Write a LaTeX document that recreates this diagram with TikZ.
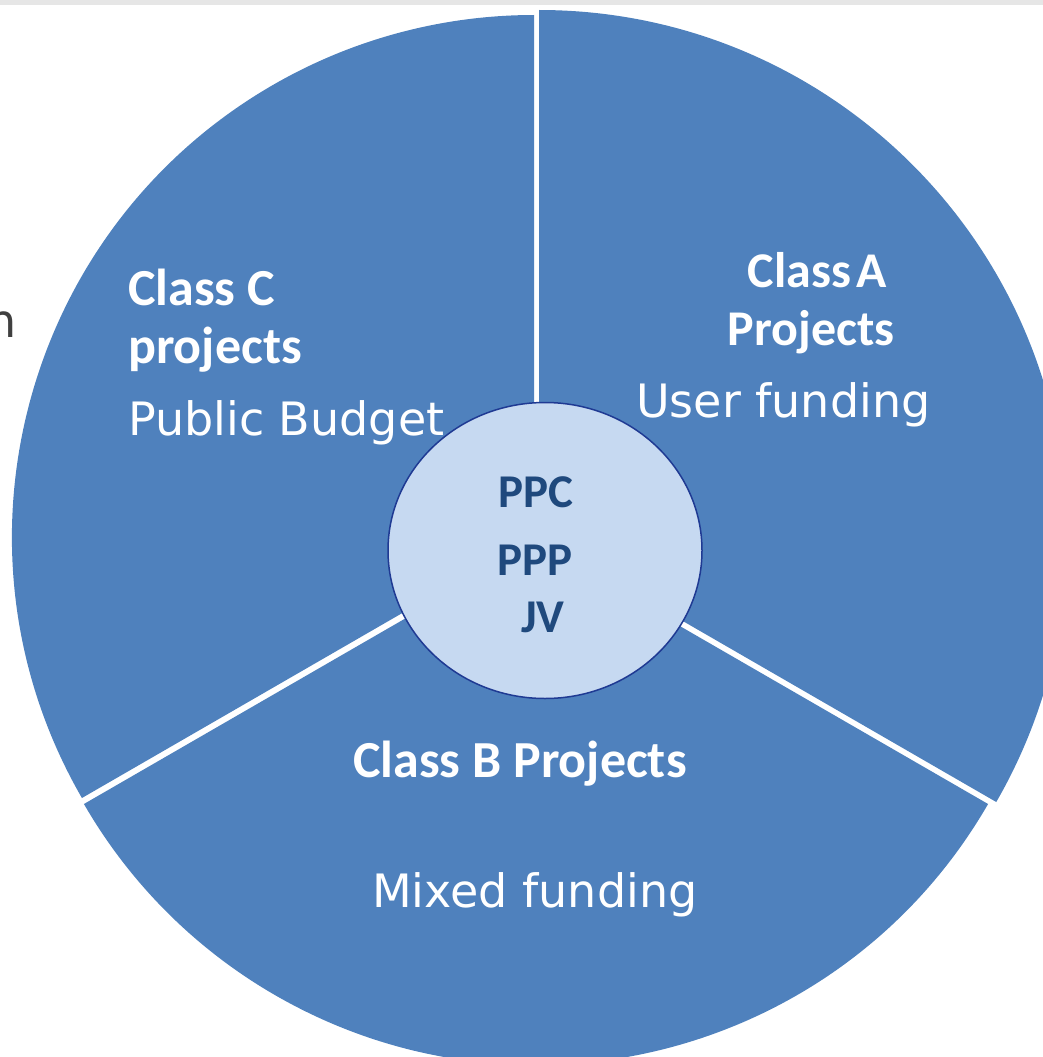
\documentclass[tikz,border=0pt]{standalone}
\usepackage{fontspec}
\setmainfont{Carlito}
\newfontfamily\descfont{DejaVu Sans}
\usetikzlibrary{shapes.geometric}
\definecolor{pieblue}{HTML}{4F81BD}
\definecolor{hubfill}{HTML}{C6D9F1}
\definecolor{hubline}{HTML}{1F3A93}
\definecolor{hubtext}{HTML}{1F497D}
\definecolor{bandgray}{HTML}{E6E6E6}
\definecolor{edgetext}{HTML}{404040}
\tikzset{
  wedge/.style={fill=pieblue},
  headtext/.style={inner sep=0pt, text=white, font=\fontsize{52}{52}\selectfont\bfseries},
  desctext/.style={inner sep=0pt, text=white, font=\descfont\fontsize{46}{46}\selectfont},
  hubstyle/.style={ellipse, draw=hubline, line width=1.5pt, fill=hubfill,
    minimum width=314pt, minimum height=296pt, inner sep=0pt},
  hubword/.style={inner sep=0pt, text=hubtext, font=\fontsize{47}{47}\selectfont\bfseries}
}
\begin{document}
\begin{tikzpicture}[x=1pt,y=-1pt]
\useasboundingbox (0,0) rectangle (1043,1057);
\clip (0,0) rectangle (1043,1057);
\fill[bandgray] (0,0) rectangle (1043,5);
% wedges (pixel angles, clockwise from right)
\fill[wedge] (539,538) -- ++(-90:528) arc[start angle=-90, end angle=30, radius=528] -- cycle;
\fill[wedge] (536,543) -- ++(30:522) arc[start angle=30, end angle=150, radius=522] -- cycle;
\fill[wedge] (534,537) -- ++(150:522) arc[start angle=150, end angle=270, radius=522] -- cycle;
% cropped letter at left edge
\node[inner sep=0pt, anchor=base east, text=edgetext, font=\descfont\fontsize{46}{46}\selectfont] (edge) at (17,337) {n};
% labels
\node[headtext, anchor=base west] (cC) at (128,305) {Class C};
\node[headtext, anchor=base west] (cCp) at (128,363) {projects};
\node[desctext, anchor=base west] (cCd) at (128,435) {Public Budget};
\node[headtext, anchor=base, font=\fontsize{50}{50}\selectfont\bfseries] (cA) at (817,287) {Class\hspace{0.1em}A};
\node[headtext, anchor=base, font=\fontsize{50}{50}\selectfont\bfseries] (cAp) at (811,345) {Projects};
\node[desctext, anchor=base west] (cAd) at (636,417) {User funding};
\node[headtext, anchor=base west] (cB) at (353,777) {Class B Projects};
\node[desctext, anchor=base west] (cBd) at (372,907) {Mixed funding};
% hub
\node[hubstyle] (hub) at (545,550.5) {};
\node[hubword, anchor=base] (ppc) at (536,507) {PPC};
\node[hubword, anchor=base] (ppp) at (535,575) {PPP};
\node[hubword, anchor=base] (jv) at (543,632) {JV};
\end{tikzpicture}
\end{document}
